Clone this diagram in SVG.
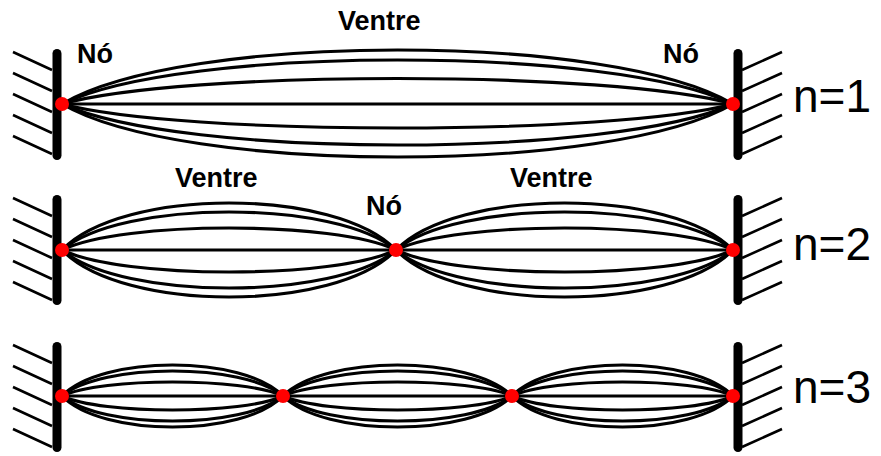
<svg xmlns="http://www.w3.org/2000/svg" width="881" height="456" viewBox="0 0 881 456">
<style>
.wall{stroke:#000;stroke-width:9;stroke-linecap:round;fill:none}
.hatch{stroke:#000;stroke-width:2.6;fill:none}
.wave{stroke:#000;stroke-width:3.1;fill:none}
.dot{fill:#ff0000}
.lbl{font-family:"Liberation Sans",Arial,sans-serif;font-weight:bold;font-size:27px;fill:#000}
.n{font-family:"Liberation Sans",Arial,sans-serif;font-size:46px;fill:#000}
</style>
<rect width="881" height="456" fill="#fff"/>
<g id="connectors">
  <g id="waves-n1">
    <path class="wave" d="M62,104 H733"/>
    <path class="wave" d="M62,104 C182.8,32 612.2,32 733,104"/>
    <path class="wave" d="M62,104 C182.8,45.3 612.2,45.3 733,104"/>
    <path class="wave" d="M62,104 C182.8,70 612.2,70 733,104"/>
    <path class="wave" d="M62,104 C182.8,136 612.2,136 733,104"/>
    <path class="wave" d="M62,104 C182.8,158.7 612.2,158.7 733,104"/>
    <path class="wave" d="M62,104 C182.8,174.7 612.2,174.7 733,104"/>
  </g>
  <g id="waves-n2">
    <path class="wave" d="M62,250 H733"/>
    <path class="wave" d="M62,250 C122.1,187.3 335.9,187.3 396,250"/>
    <path class="wave" d="M62,250 C122.1,199.3 335.9,199.3 396,250"/>
    <path class="wave" d="M62,250 C122.1,220.7 335.9,220.7 396,250"/>
    <path class="wave" d="M62,250 C122.1,279.3 335.9,279.3 396,250"/>
    <path class="wave" d="M62,250 C122.1,300.7 335.9,300.7 396,250"/>
    <path class="wave" d="M62,250 C122.1,312.7 335.9,312.7 396,250"/>
    <path class="wave" d="M396,250 C456.7,187.3 672.3,187.3 733,250"/>
    <path class="wave" d="M396,250 C456.7,199.3 672.3,199.3 733,250"/>
    <path class="wave" d="M396,250 C456.7,220.7 672.3,220.7 733,250"/>
    <path class="wave" d="M396,250 C456.7,279.3 672.3,279.3 733,250"/>
    <path class="wave" d="M396,250 C456.7,300.7 672.3,300.7 733,250"/>
    <path class="wave" d="M396,250 C456.7,312.7 672.3,312.7 733,250"/>
  </g>
  <g id="waves-n3">
    <path class="wave" d="M62,396 H733"/>
    <path class="wave" d="M62,396 C101.8,354.7 243.2,354.7 283,396"/>
    <path class="wave" d="M62,396 C101.8,362.7 243.2,362.7 283,396"/>
    <path class="wave" d="M62,396 C101.8,377.3 243.2,377.3 283,396"/>
    <path class="wave" d="M62,396 C101.8,414.7 243.2,414.7 283,396"/>
    <path class="wave" d="M62,396 C101.8,429.3 243.2,429.3 283,396"/>
    <path class="wave" d="M62,396 C101.8,437.3 243.2,437.3 283,396"/>
    <path class="wave" d="M283,396 C324.2,354.7 470.8,354.7 512,396"/>
    <path class="wave" d="M283,396 C324.2,362.7 470.8,362.7 512,396"/>
    <path class="wave" d="M283,396 C324.2,377.3 470.8,377.3 512,396"/>
    <path class="wave" d="M283,396 C324.2,414.7 470.8,414.7 512,396"/>
    <path class="wave" d="M283,396 C324.2,429.3 470.8,429.3 512,396"/>
    <path class="wave" d="M283,396 C324.2,437.3 470.8,437.3 512,396"/>
    <path class="wave" d="M512,396 C551.8,354.7 693.2,354.7 733,396"/>
    <path class="wave" d="M512,396 C551.8,362.7 693.2,362.7 733,396"/>
    <path class="wave" d="M512,396 C551.8,377.3 693.2,377.3 733,396"/>
    <path class="wave" d="M512,396 C551.8,414.7 693.2,414.7 733,396"/>
    <path class="wave" d="M512,396 C551.8,429.3 693.2,429.3 733,396"/>
    <path class="wave" d="M512,396 C551.8,437.3 693.2,437.3 733,396"/>
  </g>
</g>
<g id="wall-left-1">
  <path class="hatch" d="M13,52 L52,70 M13,73 L52,91 M13,94 L52,112 M13,115 L52,133 M13,136 L52,154"/>
  <line class="wall" x1="57" y1="53.5" x2="57" y2="155.5"/>
</g>
<g id="wall-right-1">
  <path class="hatch" d="M742,70 L782,52 M742,91 L782,73 M742,112 L782,94 M742,133 L782,115 M742,154 L782,136"/>
  <line class="wall" x1="738" y1="53.5" x2="738" y2="155.5"/>
</g>
<g id="wall-left-2">
  <path class="hatch" d="M13,198 L52,216 M13,219 L52,237 M13,240 L52,258 M13,261 L52,279 M13,282 L52,300"/>
  <line class="wall" x1="57" y1="199.5" x2="57" y2="300.5"/>
</g>
<g id="wall-right-2">
  <path class="hatch" d="M742,216 L782,198 M742,237 L782,219 M742,258 L782,240 M742,279 L782,261 M742,300 L782,282"/>
  <line class="wall" x1="738" y1="199.5" x2="738" y2="300.5"/>
</g>
<g id="wall-left-3">
  <path class="hatch" d="M13,345 L52,363 M13,366 L52,384 M13,387 L52,405 M13,408 L52,426 M13,429 L52,447"/>
  <line class="wall" x1="57" y1="346.5" x2="57" y2="447.5"/>
</g>
<g id="wall-right-3">
  <path class="hatch" d="M742,363 L782,345 M742,384 L782,366 M742,405 L782,387 M742,426 L782,408 M742,447 L782,429"/>
  <line class="wall" x1="738" y1="346.5" x2="738" y2="447.5"/>
</g>
<g id="nodes-n1">
  <circle class="dot" cx="62" cy="104" r="7"/>
  <circle class="dot" cx="733" cy="104" r="7"/>
</g>
<g id="nodes-n2">
  <circle class="dot" cx="62" cy="250" r="7"/>
  <circle class="dot" cx="396" cy="250" r="7"/>
  <circle class="dot" cx="733" cy="250" r="7"/>
</g>
<g id="nodes-n3">
  <circle class="dot" cx="62" cy="396" r="7"/>
  <circle class="dot" cx="283" cy="396" r="7"/>
  <circle class="dot" cx="512" cy="396" r="7"/>
  <circle class="dot" cx="733" cy="396" r="7"/>
</g>
<g id="labels">
  <text class="lbl" x="77" y="63">Nó</text>
  <text class="lbl" x="663" y="63">Nó</text>
  <text class="lbl" x="338" y="30" font-size="29">Ventre</text>
  <text class="lbl" x="175" y="187" font-size="29">Ventre</text>
  <text class="lbl" x="510" y="187" font-size="29">Ventre</text>
  <text class="lbl" x="366" y="215">Nó</text>
  <text class="n" x="793" y="112">n=1</text>
  <text class="n" x="793" y="260">n=2</text>
  <text class="n" x="793" y="403">n=3</text>
</g>
</svg>
